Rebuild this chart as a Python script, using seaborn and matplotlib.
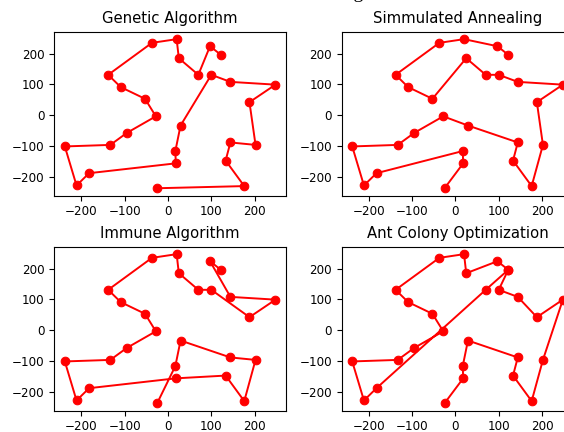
import matplotlib
matplotlib.use("Agg")
import matplotlib.pyplot as plt
import seaborn as sns
import pandas as pd

# City coordinates (same city set in every panel)
city_x = [-37, 20, 25, 70, 97, 122, -138, -109, -53, -28, -95, -133, -238, -211,
          -182, 18, 17, 29, 100, 144, 248, 188, 202, 144, 133, 176, -25]
city_y = [235, 247, 185, 131, 224, 196, 131, 91, 53, -4, -58, -97, -102, -229,
          -189, -157, -117, -34, 131, 108, 99, 42, -97, -89, -148, -231, -238]

titles = ["Genetic Algorithm", "Simmulated Annealing",
          "Immune Algorithm", "Ant Colony Optimization"]

# Visiting order of the cities for each algorithm (indices into city_x / city_y)
ga_route = [26, 25, 24, 23, 22, 21, 20, 19, 18, 17, 16, 15, 14, 13, 12, 11, 10,
            9, 8, 7, 6, 0, 1, 2, 3, 4, 5]
sa_route = [5, 4, 1, 0, 6, 7, 8, 2, 3, 18, 19, 20, 21, 22, 25, 24, 23, 17, 9,
            10, 11, 12, 13, 14, 16, 15, 26]
ia_route = [5, 4, 19, 20, 21, 18, 3, 2, 1, 0, 6, 7, 8, 9, 10, 11, 12, 13, 14,
            15, 24, 25, 22, 23, 17, 16, 26]
aco_route = [26, 15, 16, 17, 23, 24, 25, 22, 20, 21, 19, 18, 5, 3, 14, 13, 12,
             11, 10, 9, 8, 7, 6, 0, 1, 2, 4, 5]
routes = [ga_route, sa_route, ia_route, aco_route]

suptitle_text = "Algorithms"

W, H = 564, 432
plt.rcParams.update({
    "xtick.labelsize": 8.6,
    "ytick.labelsize": 8.6,
    "axes.titlesize": 10.7,
})
fig = plt.figure(figsize=(W / 100, H / 100), dpi=100)

ax_w, ax_h = 231.7, 164.0
lefts = [54.3, 341.7]
tops = [31.7, 246.7]

for i, (title, route) in enumerate(zip(titles, routes)):
    r, c = divmod(i, 2)
    left = lefts[c]
    top = tops[r]
    ax = fig.add_axes([left / W, 1 - (top + ax_h) / H, ax_w / W, ax_h / H])
    df = pd.DataFrame({"x": [city_x[k] for k in route],
                       "y": [city_y[k] for k in route]})
    sns.lineplot(data=df, x="x", y="y", sort=False, estimator=None,
                 color="red", marker="o", markersize=6.2,
                 markeredgecolor="red", markeredgewidth=0.75,
                 linewidth=1.4, ax=ax)
    ax.set_title(title)
    ax.set_xlabel("")
    ax.set_ylabel("")
    ax.set_xticks([-200, -100, 0, 100, 200])
    ax.set_yticks([-200, -100, 0, 100, 200])

fig.text(335 / W, 1 + 1.5 / H, suptitle_text, family="Liberation Serif",
         fontsize=14, ha="left", va="baseline")

fig.savefig("out.png", dpi=100)
